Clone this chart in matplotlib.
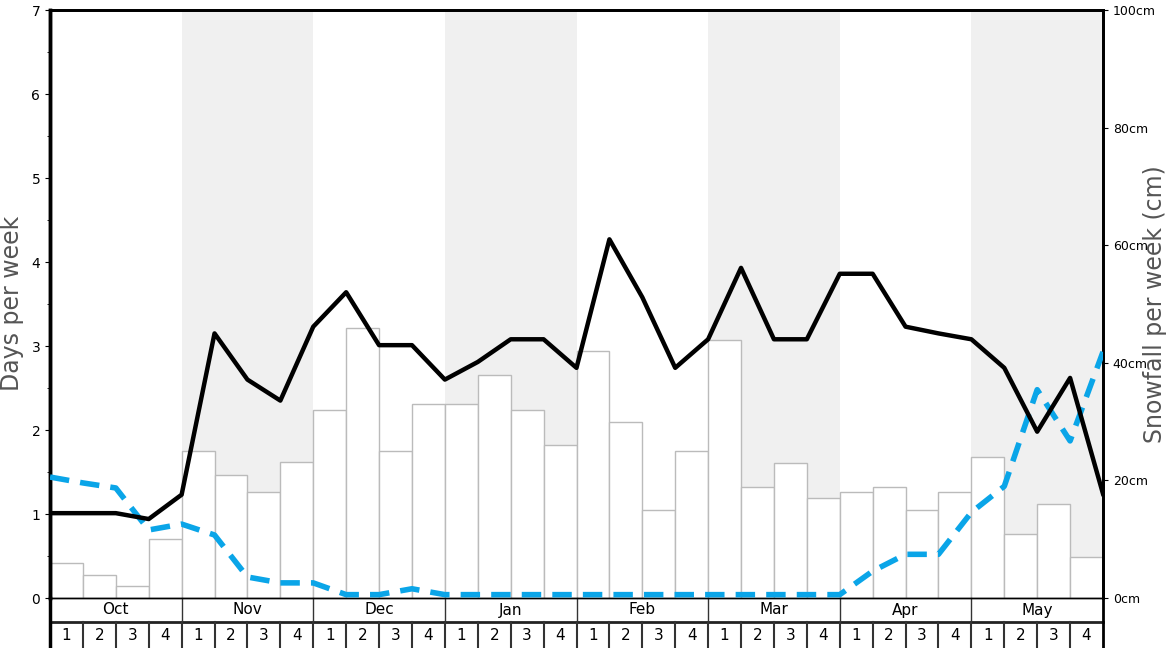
import numpy as np
import matplotlib
matplotlib.use('Agg')
import matplotlib.pyplot as plt

months = ['Oct', 'Nov', 'Dec', 'Jan', 'Feb', 'Mar', 'Apr', 'May']
week_labels = ['1', '2', '3', '4']

# snowfall per week (cm), one bar per week
snowfall = [6.0, 3.9, 2.0, 10.0, 25.0, 20.9, 18.0, 23.1,
            32.0, 45.9, 25.0, 33.0, 33.0, 37.9, 32.0, 26.0,
            42.0, 29.9, 15.0, 25.0, 43.9, 18.9, 23.0, 17.0,
            18.0, 18.9, 15.0, 18.0, 24.0, 10.9, 16.0, 7.0]

# days per week, values at week boundaries (33 points)
days_black = [1.01, 1.01, 1.01, 0.94, 1.23, 3.15, 2.60, 2.35,
              3.23, 3.64, 3.01, 3.01, 2.60, 2.81, 3.08, 3.08,
              2.74, 4.27, 3.58, 2.74, 3.08, 3.93, 3.08, 3.08,
              3.86, 3.86, 3.23, 3.15, 3.08, 2.74, 1.98, 2.62, 1.24]
days_blue = [1.44, 1.37, 1.31, 0.81, 0.88, 0.75, 0.25, 0.18,
             0.18, 0.04, 0.04, 0.11, 0.04, 0.04, 0.04, 0.04,
             0.04, 0.04, 0.04, 0.04, 0.04, 0.04, 0.04, 0.04,
             0.04, 0.32, 0.52, 0.52, 1.02, 1.33, 2.48, 1.87, 2.93]

n_weeks = len(snowfall)
W, H = 1168, 648
fig = plt.figure(figsize=(W / 100, H / 100), dpi=100)

left, right = 50 / W, 1103 / W
bot, top = (H - 598) / H, (H - 10) / H
ax2 = fig.add_axes([left, bot, right - left, top - bot])
ax = ax2.twinx()
ax.yaxis.tick_left()
ax2.yaxis.tick_right()

# shaded months
for m in range(len(months)):
    if m % 2 == 1:
        ax2.axvspan(m * 4, m * 4 + 4, color='#f0f0f0', lw=0, zorder=0)

x_bars = np.arange(n_weeks) + 0.5
ax2.bar(x_bars, snowfall, width=1.0, facecolor='white', edgecolor='#bbbbbb',
        linewidth=1, zorder=2)
ax2.set_ylim(0, 100)
ax2.set_yticks([0, 20, 40, 60, 80, 100])
ax2.set_yticklabels([f'{v}cm' for v in [0, 20, 40, 60, 80, 100]], fontsize=9)

xl = np.arange(len(days_black))
ax.plot(xl, days_blue, color='#0aa5e8', lw=4, dashes=(3.5, 2), zorder=3)
ax.plot(xl, days_black, color='black', lw=3.2, zorder=4)
ax.set_ylim(0, 7)
ax.set_yticks(range(8))
ax.set_yticks(np.arange(0.5, 7, 1), minor=True)
ax.tick_params(axis='y', labelsize=10)
ax.set_xlim(0, n_weeks)
ax2.set_xlim(0, n_weeks)
ax2.set_xticks([])
ax.set_xticks([])

ax.set_zorder(ax2.get_zorder() + 1)
ax.patch.set_visible(False)
for a in (ax, ax2):
    a.spines['top'].set_linewidth(2)
    a.spines['left'].set_linewidth(2.5)
    a.spines['right'].set_linewidth(2)
    a.spines['bottom'].set_linewidth(1)

# axis titles
fig.text(12 / W, 1 - 303 / H, 'Days per week', rotation=90, ha='center',
         va='center', fontsize=17, color='#555555')
fig.text(1155 / W, 1 - 304 / H, 'Snowfall per week (cm)', rotation=90,
         ha='center', va='center', fontsize=17, color='#555555')

# month / week table below
tax = fig.add_axes([left, 0, right - left, bot])
tax.set_xlim(0, n_weeks)
tax.set_ylim(0, 50)
tax.axis('off')
tax.plot([0, n_weeks], [26, 26], color='#222222', lw=2, clip_on=False)
for k in range(1, n_weeks):
    tax.plot([k, k], [0, 26], color='#333333', lw=1.5, clip_on=False)
for m in range(1, len(months)):
    tax.plot([m * 4, m * 4], [26, 50], color='#333333', lw=1, clip_on=False)
tax.plot([0, 0], [0, 50], color='black', lw=2.5, clip_on=False)
tax.plot([n_weeks, n_weeks], [0, 50], color='black', lw=2, clip_on=False)
for m, name in enumerate(months):
    tax.text(m * 4 + 2, 38, name, ha='center', va='center', fontsize=11)
for k in range(n_weeks):
    tax.text(k + 0.5, 12, week_labels[k % 4], ha='center', va='center', fontsize=11)

fig.savefig('out.png', dpi=100)
